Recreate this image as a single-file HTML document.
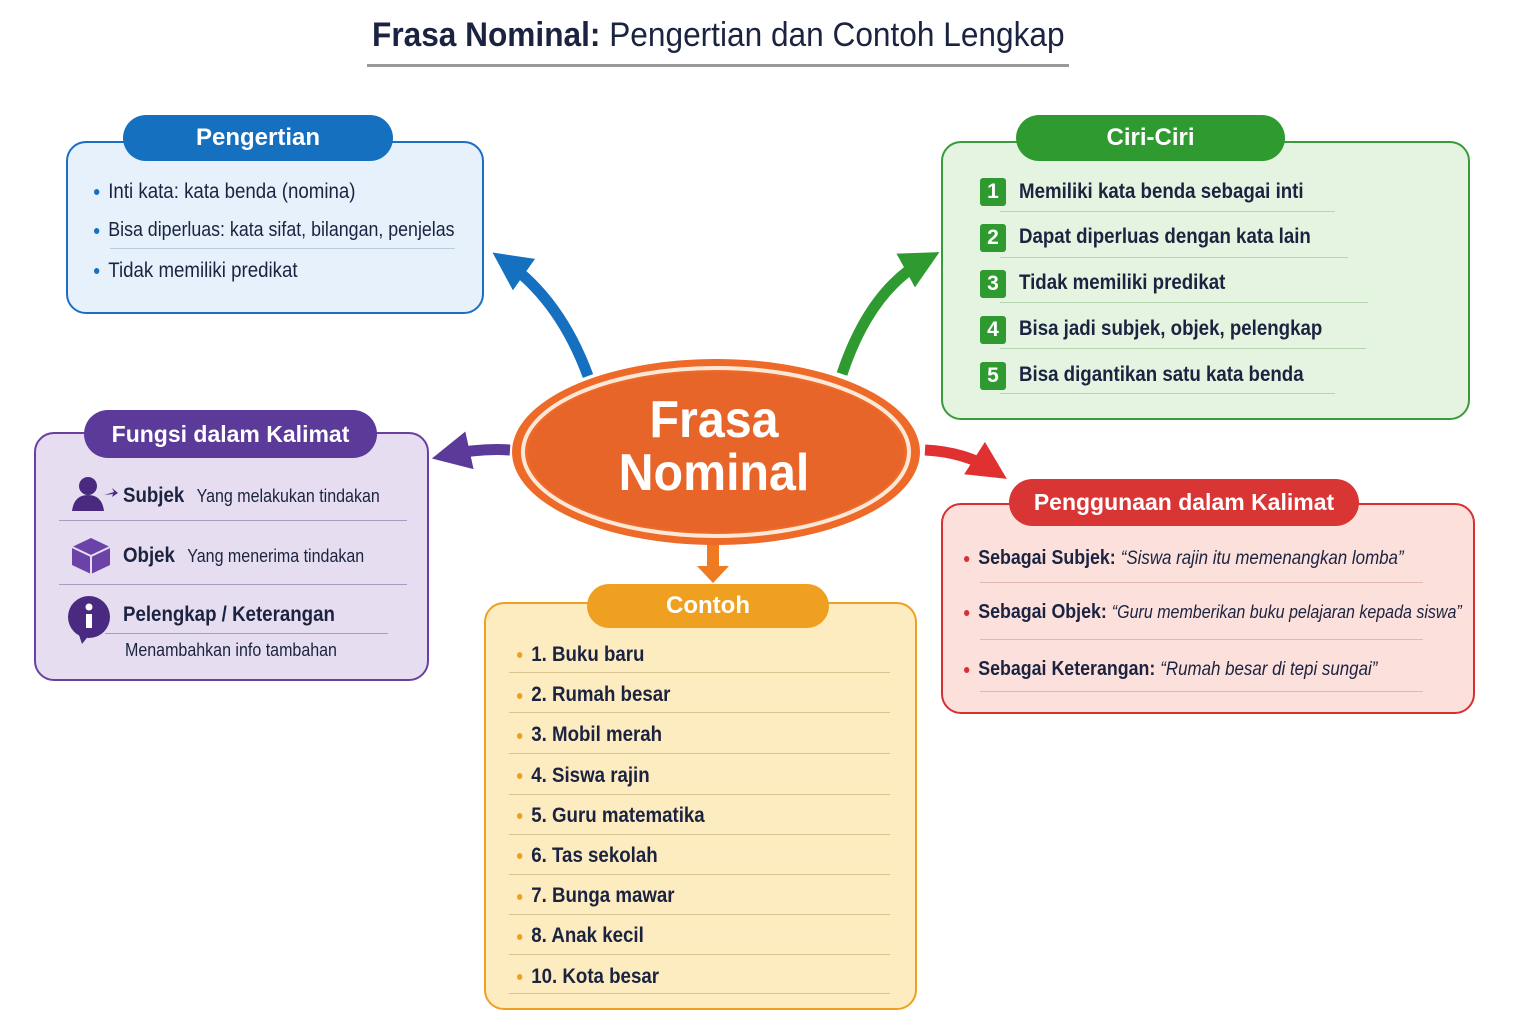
<!DOCTYPE html>
<html><head><meta charset="utf-8"><style>
*{margin:0;padding:0;box-sizing:border-box}
body{width:1536px;height:1024px;background:#fff;position:relative;overflow:hidden;font-family:"Liberation Sans",sans-serif;color:#1b2340}
.a{position:absolute}
.box{position:absolute;border-radius:20px;border:2.5px solid}
.hd{position:absolute;border-radius:24px;color:#fff;font-weight:bold;font-size:24px;text-align:center}
.t{position:absolute;white-space:nowrap;transform:scaleX(0.89);transform-origin:0 0}
.ln{position:absolute;height:1px}
.dot{display:inline-block;width:6px;height:6px;border-radius:50%;margin-right:10px;vertical-align:middle}
.num{position:absolute;width:26px;height:28px;background:#2f9a30;color:#fff;font-weight:bold;font-size:21px;text-align:center;line-height:28px;border-radius:3px}
</style></head><body>
<div class="t" style="left:372px;top:16px;font-size:34px;transform:scaleX(0.93)"><b>Frasa Nominal:</b> Pengertian dan Contoh Lengkap</div>
<div class="a" style="left:367px;top:64px;width:702px;height:3px;background:#999"></div>

<svg class="a" style="left:0;top:0" width="1536" height="1024">
<defs>
<marker id="mb" markerWidth="3.5" markerHeight="3.5" refX="2" refY="1.75" orient="auto"><path d="M0,0L3.5,1.75L0,3.5z" fill="#1570c0"/></marker>
<marker id="mg" markerWidth="3.5" markerHeight="3.5" refX="2" refY="1.75" orient="auto"><path d="M0,0L3.5,1.75L0,3.5z" fill="#2f9a30"/></marker>
<marker id="mp" markerWidth="3.5" markerHeight="3.5" refX="2" refY="1.75" orient="auto"><path d="M0,0L3.5,1.75L0,3.5z" fill="#5b3a9a"/></marker>
<marker id="mr" markerWidth="3.5" markerHeight="3.5" refX="2" refY="1.75" orient="auto"><path d="M0,0L3.5,1.75L0,3.5z" fill="#e03030"/></marker>
</defs>
<path d="M588,376 Q560,300 506,262" stroke="#1570c0" stroke-width="11" fill="none" marker-end="url(#mb)"/>
<path d="M842,374 Q870,290 925,260" stroke="#2f9a30" stroke-width="11" fill="none" marker-end="url(#mg)"/>
<path d="M510,450 Q480,448 448,455" stroke="#5b3a9a" stroke-width="11" fill="none" marker-end="url(#mp)"/>
<path d="M925,450 Q965,452 993,470" stroke="#e03030" stroke-width="11" fill="none" marker-end="url(#mr)"/>
<rect x="707" y="540" width="12" height="28" fill="#ee7a22"/>
<path d="M697,566 L729,566 L713,583 Z" fill="#ee7a22"/>
<ellipse cx="716" cy="452" rx="204" ry="93" fill="#ee6a28"/>
<ellipse cx="716" cy="452" rx="193" ry="84" fill="none" stroke="#fde8d8" stroke-width="4"/>
<ellipse cx="716" cy="452" rx="188" ry="80" fill="#e8652a"/>
<text x="714" y="437" text-anchor="middle" font-family="Liberation Sans,sans-serif" font-weight="bold" font-size="52" fill="#fff" transform="translate(714 0) scale(0.93 1) translate(-714 0)">Frasa</text>
<text x="714" y="490" text-anchor="middle" font-family="Liberation Sans,sans-serif" font-weight="bold" font-size="52" fill="#fff" transform="translate(714 0) scale(0.93 1) translate(-714 0)">Nominal</text>
</svg>

<!-- Pengertian -->
<div class="box" style="left:66px;top:141px;width:418px;height:173px;background:#e6f1fb;border-color:#1a6fc4"></div>
<div class="hd" style="left:123px;top:115px;width:270px;height:46px;line-height:46px;background:#1570c0">Pengertian</div>
<div class="t" style="left:94px;top:180px;font-size:21px"><span class="dot" style="background:#1570c0"></span>Inti kata: kata benda (nomina)</div>
<div class="t" style="left:94px;top:219px;font-size:20px"><span class="dot" style="background:#1570c0"></span>Bisa diperluas: kata sifat, bilangan, penjelas</div>
<div class="ln" style="left:110px;top:248px;width:345px;background:#bcd"></div>
<div class="t" style="left:94px;top:259px;font-size:21px"><span class="dot" style="background:#1570c0"></span>Tidak memiliki predikat</div>

<!-- Ciri -->
<div class="box" style="left:941px;top:141px;width:529px;height:279px;background:#e4f4e0;border-color:#3a9a3a"></div>
<div class="hd" style="left:1016px;top:115px;width:269px;height:46px;line-height:46px;background:#2f9a30">Ciri-Ciri</div>
<div class="num" style="left:980px;top:178px">1</div><div class="t" style="left:1019px;top:180px;font-size:21px;font-weight:bold">Memiliki kata benda sebagai inti</div><div class="ln" style="left:1000px;top:211px;width:335px;background:#b5d5b0"></div>
<div class="num" style="left:980px;top:224px">2</div><div class="t" style="left:1019px;top:225px;font-size:21px;font-weight:bold">Dapat diperluas dengan kata lain</div><div class="ln" style="left:1000px;top:257px;width:348px;background:#b5d5b0"></div>
<div class="num" style="left:980px;top:270px">3</div><div class="t" style="left:1019px;top:271px;font-size:21px;font-weight:bold">Tidak memiliki predikat</div><div class="ln" style="left:1000px;top:302px;width:368px;background:#b5d5b0"></div>
<div class="num" style="left:980px;top:316px">4</div><div class="t" style="left:1019px;top:317px;font-size:21px;font-weight:bold">Bisa jadi subjek, objek, pelengkap</div><div class="ln" style="left:1000px;top:348px;width:366px;background:#b5d5b0"></div>
<div class="num" style="left:980px;top:362px">5</div><div class="t" style="left:1019px;top:363px;font-size:21px;font-weight:bold">Bisa digantikan satu kata benda</div><div class="ln" style="left:1000px;top:393px;width:335px;background:#b5d5b0"></div>

<!-- Fungsi -->
<div class="box" style="left:34px;top:432px;width:395px;height:249px;background:#e6def0;border-color:#6a3fa0"></div>
<div class="hd" style="left:84px;top:410px;width:293px;height:48px;line-height:48px;background:#5b3a9a;font-size:23px">Fungsi dalam Kalimat</div>
<svg class="a" style="left:68px;top:475px" width="50" height="40"><circle cx="20" cy="11" r="9" fill="#4a2a80"/><path d="M4,36 Q6,20 20,20 Q34,20 36,36z" fill="#4a2a80"/><path d="M36,20 L46,17 L44,13 L50,18 L44,22 L45,19 Z" fill="#4a2a80"/></svg>
<div class="t" style="left:123px;top:484px;font-size:21px"><b>Subjek</b> <span style="font-size:18px;margin-left:8px">Yang melakukan tindakan</span></div>
<div class="ln" style="left:59px;top:520px;width:348px;background:#a79bc3"></div>
<svg class="a" style="left:70px;top:536px" width="42" height="40"><path d="M21,2 L40,11 L40,29 L21,38 L2,29 L2,11Z" fill="#6a42a8"/><path d="M2,11 L21,20 L40,11 M21,20 L21,38" stroke="#e6def0" stroke-width="2" fill="none"/></svg>
<div class="t" style="left:123px;top:544px;font-size:21px"><b>Objek</b> <span style="font-size:18px;margin-left:8px">Yang menerima tindakan</span></div>
<div class="ln" style="left:59px;top:584px;width:348px;background:#a79bc3"></div>
<svg class="a" style="left:66px;top:596px" width="48" height="50"><circle cx="23" cy="21" r="21" fill="#4a2a80"/><path d="M12,36 L16,48 L24,38Z" fill="#4a2a80"/><rect x="20" y="18" width="6" height="14" fill="#fff"/><circle cx="23" cy="11" r="3.5" fill="#fff"/></svg>
<div class="t" style="left:123px;top:603px;font-size:21px;font-weight:bold">Pelengkap / Keterangan</div>
<div class="ln" style="left:105px;top:633px;width:283px;background:#a79bc3"></div>
<div class="t" style="left:125px;top:640px;font-size:18px">Menambahkan info tambahan</div>

<!-- Penggunaan -->
<div class="box" style="left:941px;top:503px;width:534px;height:211px;background:#fbe0dc;border-color:#d83030"></div>
<div class="hd" style="left:1009px;top:479px;width:350px;height:47px;line-height:47px;background:#d93535;font-size:23px">Penggunaan dalam Kalimat</div>
<div class="t" style="left:964px;top:547px;font-size:20px"><span class="dot" style="background:#d83030"></span><b>Sebagai Subjek:</b> <i style="font-size:19px">“Siswa rajin itu memenangkan lomba”</i></div>
<div class="ln" style="left:980px;top:582px;width:443px;background:#e0b8b2"></div>
<div class="t" style="left:964px;top:601px;font-size:20px"><span class="dot" style="background:#d83030"></span><b>Sebagai Objek:</b> <i style="font-size:18px">“Guru memberikan buku pelajaran kepada siswa”</i></div>
<div class="ln" style="left:980px;top:639px;width:443px;background:#e0b8b2"></div>
<div class="t" style="left:964px;top:658px;font-size:20px"><span class="dot" style="background:#d83030"></span><b>Sebagai Keterangan:</b> <i style="font-size:19px">“Rumah besar di tepi sungai”</i></div>
<div class="ln" style="left:980px;top:691px;width:443px;background:#e0b8b2"></div>

<!-- Contoh -->
<div class="box" style="left:484px;top:602px;width:433px;height:408px;background:#fdecc0;border-color:#f0a020"></div>
<div class="hd" style="left:587px;top:584px;width:242px;height:44px;line-height:44px;background:#f0a020">Contoh</div>
<div class="t" style="left:517px;top:635px;font-size:21px;font-weight:bold;line-height:40.2px">
<div><span class="dot" style="background:#f0a020"></span>1. Buku baru</div>
<div><span class="dot" style="background:#f0a020"></span>2. Rumah besar</div>
<div><span class="dot" style="background:#f0a020"></span>3. Mobil merah</div>
<div><span class="dot" style="background:#f0a020"></span>4. Siswa rajin</div>
<div><span class="dot" style="background:#f0a020"></span>5. Guru matematika</div>
<div><span class="dot" style="background:#f0a020"></span>6. Tas sekolah</div>
<div><span class="dot" style="background:#f0a020"></span>7. Bunga mawar</div>
<div><span class="dot" style="background:#f0a020"></span>8. Anak kecil</div>
<div><span class="dot" style="background:#f0a020"></span>10. Kota besar</div>
</div>
<div class="ln" style="left:509px;top:672px;width:381px;background:#d8c490"></div>
<div class="ln" style="left:509px;top:712px;width:381px;background:#d8c490"></div>
<div class="ln" style="left:509px;top:753px;width:381px;background:#d8c490"></div>
<div class="ln" style="left:509px;top:794px;width:381px;background:#d8c490"></div>
<div class="ln" style="left:509px;top:834px;width:381px;background:#d8c490"></div>
<div class="ln" style="left:509px;top:874px;width:381px;background:#d8c490"></div>
<div class="ln" style="left:509px;top:914px;width:381px;background:#d8c490"></div>
<div class="ln" style="left:509px;top:954px;width:381px;background:#d8c490"></div>
<div class="ln" style="left:509px;top:993px;width:381px;background:#d8c490"></div>
</body></html>
